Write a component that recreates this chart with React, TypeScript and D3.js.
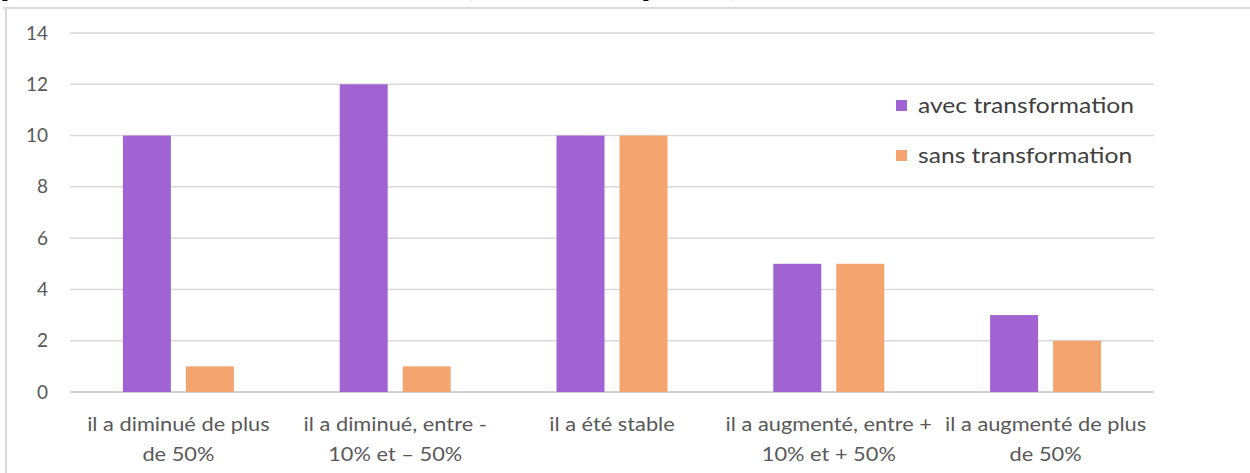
import React from "react";
import * as d3 from "d3";

const categories: string[][] = [
  ["il a diminué de plus", "de 50%"],
  ["il a diminué, entre -", "10% et – 50%"],
  ["il a été stable"],
  ["il a augmenté, entre +", "10% et + 50%"],
  ["il a augmenté de plus", "de 50%"],
];
const seriesNames = ["avec transformation", "sans transformation"];
const avec = [10, 12, 10, 5, 3];
const sans = [1, 1, 10, 5, 2];
const yTicks = [0, 2, 4, 6, 8, 10, 12, 14];
const colors = ["#A163D1", "#F4A46F"];

const W = 1250;
const H = 473;
const plotLeft = 70;
const plotRight = 1154;
const yTop = 33;
const yBottom = 392;

export default function App() {
  const x = d3
    .scaleBand<number>()
    .domain(d3.range(categories.length))
    .range([plotLeft, plotRight]);
  const y = d3.scaleLinear().domain([0, 14]).range([yBottom, yTop]);
  const barW = 48;
  const gap = 15;
  const series = [avec, sans];
  const font = "Lato, 'Open Sans', sans-serif";

  return (
    <svg
      width={W}
      height={H}
      style={{ position: "absolute", left: 0, top: 0, background: "#fff" }}
    >
      {/* clipped text fragments from the page above */}
      <g fontFamily="'Liberation Serif', serif" fontWeight="bold" fontSize={20} fill="#000">
        <text x={2} y={-4}>p</text>
        <text x={466} y={-4}>(</text>
        <text x={643} y={-4}>p</text>
        <text x={732} y={-4}>)</text>
      </g>
      {/* frame */}
      <line x1={3} x2={W} y1={8} y2={8} stroke="#d9d9d9" strokeWidth={2} />
      <line x1={6} x2={6} y1={7} y2={H} stroke="#d9d9d9" strokeWidth={2} />

      {/* gridlines */}
      {yTicks.map((t) => (
        <line
          key={t}
          x1={plotLeft}
          x2={plotRight}
          y1={y(t)}
          y2={y(t)}
          stroke={t === 0 ? "#d0d0d0" : "#d9d9d9"}
          strokeWidth={t === 0 ? 2 : 1.5}
        />
      ))}
      {/* y tick labels */}
      {yTicks.map((t) => (
        <text
          key={"l" + t}
          x={48}
          y={y(t) + 6.5}
          textAnchor="end"
          fontFamily={font}
          fontSize={19}
          fill="#595959"
        >
          {t}
        </text>
      ))}

      {/* bars */}
      {series.map((vals, si) =>
        vals.map((v, i) => {
          const cx = x(i)! + x.bandwidth() / 2;
          const bx = si === 0 ? cx - gap / 2 - barW : cx + gap / 2;
          return (
            <rect
              key={si + "-" + i}
              x={bx}
              y={y(v)}
              width={barW}
              height={y(0) - y(v)}
              fill={colors[si]}
            />
          );
        })
      )}

      {/* x labels */}
      {categories.map((lines, i) => {
        const cx = x(i)! + x.bandwidth() / 2;
        return (
          <text
            key={"c" + i}
            transform={`translate(${cx},0) scale(1.09,1)`}
            textAnchor="middle"
            fontFamily={font}
            fontSize={20}
            fill="#595959"
          >
            {lines.map((ln, j) => (
              <tspan key={j} x={0} y={431 + j * 30}>
                {ln}
              </tspan>
            ))}
          </text>
        );
      })}

      {/* legend */}
      {seriesNames.map((n, i) => (
        <g key={n}>
          <rect x={896} y={100 + i * 50} width={11} height={11} fill={colors[i]} />
          <text
            transform={`translate(918,${113 + i * 50}) scale(1.12,1)`}
            fontFamily={font}
            fontSize={22}
            fill="#404040"
          >
            {n}
          </text>
        </g>
      ))}
    </svg>
  );
}
